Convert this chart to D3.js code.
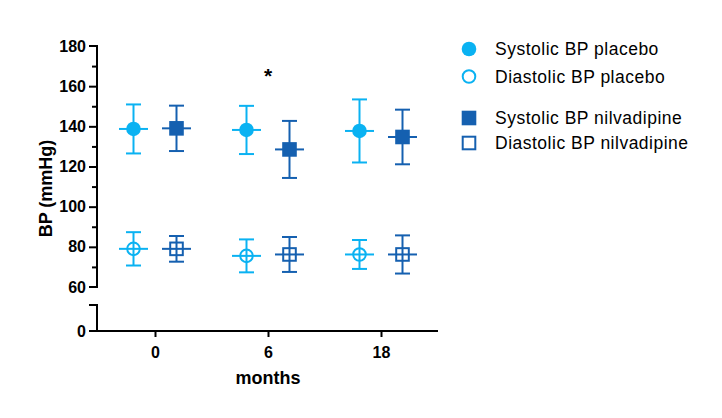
<!DOCTYPE html>
<html>
<head>
<meta charset="utf-8">
<script src="https://cdn.jsdelivr.net/npm/d3@7"></script>
<style>
  body { margin: 0; background: #fff; }
  svg { font-family: Arial, "Liberation Sans", sans-serif; }
  .axis path, .axis line { stroke: #000; stroke-width: 2px; }
  .axis text { font-size: 16px; font-weight: bold; fill: #000; }
</style>
</head>
<body>
<div id="chart"></div>
<script>
const months = ['0', '6', '18']

// mean and SD per time point
const sysPlaceboMean = [138.7, 138.2, 137.7]
const sysPlaceboSd = [12.2, 12.0, 15.7]
const sysNilMean = [139.0, 128.5, 134.7]
const sysNilSd = [11.3, 14.2, 13.6]
const diaPlaceboMean = [79.0, 75.5, 76.2]
const diaPlaceboSd = [8.3, 8.2, 7.2]
const diaNilMean = [79.0, 76.2, 76.2]
const diaNilSd = [6.4, 8.7, 9.5]

const upperTicks = [60, 80, 100, 120, 140, 160, 180]
const lowerTicks = [0]

const lightBlue = '#0ab2f2'
const darkBlue = '#1560b0'

const series = [
  {name: 'Systolic BP placebo', mean: sysPlaceboMean, sd: sysPlaceboSd, group: 0, shape: 'circle', filled: true, color: lightBlue},
  {name: 'Diastolic BP placebo', mean: diaPlaceboMean, sd: diaPlaceboSd, group: 0, shape: 'circle', filled: false, color: lightBlue},
  {name: 'Systolic BP nilvadipine', mean: sysNilMean, sd: sysNilSd, group: 1, shape: 'square', filled: true, color: darkBlue},
  {name: 'Diastolic BP nilvadipine', mean: diaNilMean, sd: diaNilSd, group: 1, shape: 'square', filled: false, color: darkBlue}
]

const width = 722, height = 418
const left = 97, right = 438
const upperTop = 46, upperBottom = 287
const lowerTop = 305, lowerBottom = 331

const svg = d3.select('#chart').append('svg')
  .attr('width', width).attr('height', height)

const x = d3.scalePoint().domain(months).range([155, 381])
const groupOffset = d3.scalePoint().domain([0, 1]).range([-21.5, 21.5])
const y = d3.scaleLinear().domain([60, 180]).range([upperBottom, upperTop])
const yLow = d3.scaleLinear().domain([0, 12]).range([lowerBottom, lowerTop])

// upper y axis segment
svg.append('g').attr('class', 'axis')
  .attr('transform', 'translate(' + left + ',0)')
  .call(d3.axisLeft(y).tickValues(d3.range(60, 181, 10)).tickSize(8).tickPadding(3)
    .tickFormat((d) => upperTicks.includes(d) ? d : ''))
  .call((g) => g.selectAll('.tick').filter((d) => !upperTicks.includes(d))
    .select('line').attr('x2', -5))
  .call((g) => g.selectAll('.tick').filter((d) => d === 60 || d === 180)
    .select('line').remove())
  .call((g) => g.select('.domain').attr('d',
    'M-8,' + upperTop + 'H0V' + upperBottom + 'H-8'))

// lower y axis segment
svg.append('g').attr('class', 'axis')
  .attr('transform', 'translate(' + left + ',0)')
  .call(d3.axisLeft(yLow).tickValues(lowerTicks).tickSize(8).tickPadding(3))
  .call((g) => g.select('.domain').attr('d', 'M-8,' + lowerTop + 'H0V' + lowerBottom))
  .call((g) => g.selectAll('.tick line').remove())

// x axis
svg.append('g').attr('class', 'axis')
  .attr('transform', 'translate(0,' + lowerBottom + ')')
  .call(d3.axisBottom(x).tickSize(6).tickPadding(10))
  .call((g) => g.select('.domain').attr('d', 'M' + (left - 8) + ',0H' + right))

svg.append('text')
  .attr('transform', 'translate(52,' + ((upperTop + upperBottom) / 2 + 22) + ') rotate(-90)')
  .attr('text-anchor', 'middle')
  .style('font-size', '18px').style('font-weight', 'bold')
  .text('BP (mmHg)')

svg.append('text')
  .attr('x', 268).attr('y', 384)
  .attr('text-anchor', 'middle')
  .style('font-size', '18px').style('font-weight', 'bold')
  .text('months')

// significance star
svg.append('text')
  .attr('x', x('6')).attr('y', 83)
  .attr('text-anchor', 'middle')
  .style('font-size', '21px').style('font-weight', 'bold')
  .text('*')

const drawMarker = (sel, s, cx, cy) => {
  if (s.shape === 'circle') {
    sel.append('circle')
      .attr('cx', cx).attr('cy', cy)
      .attr('r', s.filled ? 7.3 : 6.3)
      .attr('fill', s.filled ? s.color : 'none')
      .attr('stroke', s.color)
      .attr('stroke-width', s.filled ? 0 : 2)
  } else {
    const half = s.filled ? 7.3 : 6.3
    sel.append('rect')
      .attr('x', cx - half).attr('y', cy - half)
      .attr('width', half * 2).attr('height', half * 2)
      .attr('fill', s.filled ? s.color : 'none')
      .attr('stroke', s.color)
      .attr('stroke-width', s.filled ? 0 : 2)
  }
}

const points = svg.append('g')
series.forEach((s) => {
  months.forEach((m, i) => {
    const cx = x(m) + groupOffset(s.group)
    const cy = y(s.mean[i])
    const hi = y(s.mean[i] + s.sd[i])
    const lo = y(s.mean[i] - s.sd[i])
    const g = points.append('g')
      .attr('stroke', s.color).attr('stroke-width', 2)
    g.append('line').attr('x1', cx).attr('x2', cx).attr('y1', hi).attr('y2', lo)
    g.append('line').attr('x1', cx - 7.5).attr('x2', cx + 7.5).attr('y1', hi).attr('y2', hi)
    g.append('line').attr('x1', cx - 7.5).attr('x2', cx + 7.5).attr('y1', lo).attr('y2', lo)
    g.append('line').attr('x1', cx - 14.5).attr('x2', cx + 14.5).attr('y1', cy).attr('y2', cy)
    drawMarker(points, s, cx, cy)
  })
})

// legend
const legendRows = [49, 76.5, 118, 143]
const legend = svg.append('g')
series.forEach((s, i) => {
  drawMarker(legend, s, 469, legendRows[i])
  legend.append('text')
    .attr('x', 495).attr('y', legendRows[i] + 6)
    .style('font-size', '17.5px')
    .style('letter-spacing', '0.5px')
    .text(s.name)
})
</script>
</body>
</html>
